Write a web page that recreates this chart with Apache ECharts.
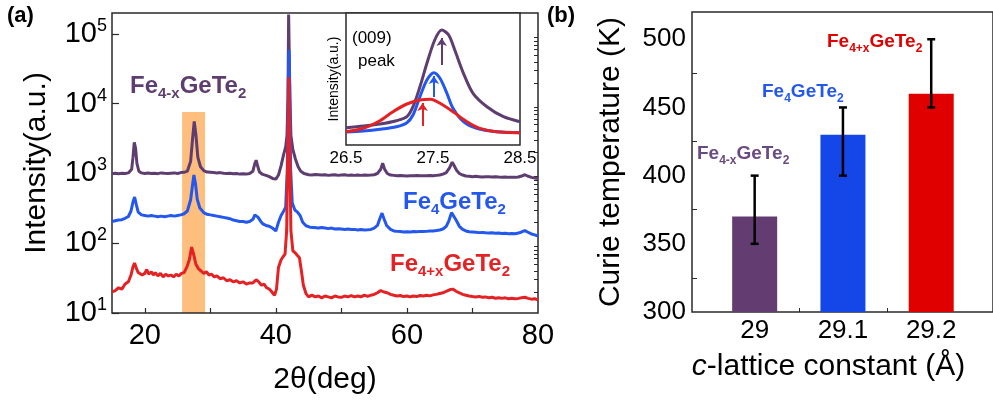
<!DOCTYPE html>
<html><head><meta charset="utf-8">
<script src="https://cdn.jsdelivr.net/npm/echarts@6/dist/echarts.min.js"></script>
<style>html,body{margin:0;padding:0;background:#fff}#c{width:993px;height:405px}</style>
</head><body><div id="c"></div>
<script>
// ---------- DATA ----------
// XRD patterns: [2theta (deg), intensity (a.u.)]
const xrdPurple = [[15,990],[15.5,1010],[16,995],[16.5,1005],[17,1000],[17.5,1020],[18,1150],[18.2,1700],[18.4,2800],[18.6,2300],[18.8,1400],[19.1,1080],[19.5,1020],[20,1000],[20.5,1015],[21,1000],[21.5,1010],[22,995],[22.5,1020],[23,1005],[23.5,1000],[24,1010],[24.5,1020],[25,1000],[25.5,1030],[26,1040],[26.5,1080],[27,1500],[27.3,3200],[27.55,5600],[27.8,3600],[28.1,1700],[28.5,1250],[29,1100],[29.5,1050],[30,1040],[30.5,1030],[31,1020],[31.5,1030],[32,1010],[32.5,1000],[33,1010],[33.5,990],[34,1000],[34.5,980],[35,990],[35.5,980],[36,1000],[36.5,1080],[36.8,1400],[37,1550],[37.2,1300],[37.5,1050],[38,970],[38.5,940],[39,900],[39.5,850],[40,830],[40.4,950],[40.8,1300],[41.2,1900],[41.5,2400],[41.7,3500],[41.85,12000],[41.95,190000],[42.05,190000],[42.15,12000],[42.3,3500],[42.6,2200],[43,1600],[43.4,1250],[43.8,1080],[44.3,1000],[45,960],[45.5,950],[46,970],[46.5,960],[47,950],[47.5,960],[48,940],[48.5,950],[49,960],[49.5,940],[50,950],[50.5,960],[51,940],[51.5,950],[52,940],[52.5,950],[53,940],[53.5,950],[54,945],[54.5,950],[55,960],[55.5,1000],[56,1150],[56.3,1400],[56.6,1150],[57,1000],[57.5,950],[58,940],[58.5,930],[59,935],[59.5,930],[60,920],[60.5,930],[61,925],[61.5,935],[62,930],[62.5,925],[63,930],[63.5,935],[64,930],[64.5,940],[65,950],[65.5,980],[66,1030],[66.5,1200],[66.9,1450],[67.2,1300],[67.6,1100],[68,1000],[68.5,950],[69,920],[69.5,910],[70,900],[70.5,910],[71,900],[71.5,890],[72,900],[72.5,895],[73,890],[73.5,900],[74,890],[74.5,885],[75,890],[75.5,880],[76,885],[76.5,880],[77,890],[77.5,920],[78,960],[78.4,920],[79,880],[79.5,860],[80,850]];
const xrdBlue = [[15,205],[15.5,210],[16,215],[16.5,218],[17,228],[17.5,242],[17.9,290],[18.2,390],[18.45,460],[18.7,360],[19,280],[19.5,255],[20,250],[20.5,245],[21,250],[21.5,245],[22,240],[22.5,245],[23,240],[23.5,245],[24,250],[24.5,245],[25,250],[25.5,255],[26,265],[26.5,290],[27,420],[27.3,700],[27.5,950],[27.75,700],[28,430],[28.4,320],[29,275],[29.5,260],[30,255],[30.5,250],[31,245],[31.5,240],[32,235],[32.5,230],[33,225],[33.5,215],[34,210],[34.5,205],[35,205],[35.5,200],[36,205],[36.5,220],[36.8,255],[37,270],[37.3,235],[37.7,205],[38,190],[38.5,180],[39,175],[39.5,165],[40,150],[40.4,200],[40.8,250],[41.2,290],[41.5,330],[41.75,1200],[41.9,20000],[42.0,59000],[42.1,20000],[42.25,1200],[42.5,380],[42.9,300],[43.3,280],[43.7,250],[44.1,200],[44.6,178],[45.2,170],[45.8,168],[46.5,165],[47,168],[47.5,165],[48,162],[48.5,165],[49,160],[49.5,162],[50,160],[50.5,158],[51,160],[51.5,157],[52,158],[52.5,155],[53,157],[53.5,155],[54,156],[54.5,158],[55,165],[55.5,180],[55.9,230],[56.2,270],[56.5,225],[56.9,180],[57.5,158],[58,150],[58.5,148],[59,147],[59.5,145],[60,146],[60.5,145],[61,147],[61.5,146],[62,148],[62.5,147],[63,148],[63.5,150],[64,150],[64.5,152],[65,155],[65.5,160],[66,175],[66.4,210],[66.8,275],[67.1,260],[67.5,215],[68,175],[68.5,158],[69,150],[69.5,146],[70,145],[70.5,144],[71,142],[71.5,143],[72,141],[72.5,140],[73,141],[73.5,139],[74,140],[74.5,138],[75,139],[75.5,137],[76,138],[76.5,137],[77,140],[77.5,145],[78,152],[78.4,145],[79,136],[79.5,132],[80,127]];
const xrdRed = [[15,20],[15.5,21],[16,23],[16.5,22],[17,26],[17.5,28],[17.9,35],[18.2,46],[18.45,52],[18.7,44],[19,38],[19.3,40],[19.6,35],[20,37],[20.3,42],[20.6,36],[21,39],[21.3,35],[21.6,38],[22,34],[22.4,37],[22.8,33],[23.2,36],[23.6,34],[24,35],[24.4,33],[24.8,36],[25.2,34],[25.6,37],[26,38],[26.4,45],[26.8,58],[27.15,88],[27.45,70],[27.8,50],[28.2,43],[28.6,40],[29,37],[29.4,39],[29.8,35],[30.2,36],[30.6,33],[31,34],[31.5,31],[32,32],[32.5,29],[33,30],[33.5,28],[34,29],[34.5,27],[35,28],[35.5,26],[36,27],[36.5,27],[37,30],[37.4,28],[37.8,25],[38.2,26],[38.6,23],[39,22],[39.4,20],[39.8,18],[40.1,22],[40.4,45],[40.8,58],[41.1,64],[41.4,70],[41.65,150],[41.85,3000],[41.98,24000],[42.1,3000],[42.3,150],[42.6,78],[43,72],[43.3,68],[43.6,62],[43.9,40],[44.2,25],[44.6,19],[45,17],[45.5,18],[46,17],[46.5,17.5],[47,16.5],[47.5,17.5],[48,17],[48.5,16.5],[49,17.5],[49.5,17],[50,16.8],[50.5,17.5],[51,17],[51.5,17.8],[52,17],[52.5,17.5],[53,17],[53.5,18],[54,17.3],[54.5,18],[55,18.5],[55.5,19.5],[56,21],[56.5,20],[57,19.5],[57.5,18.5],[58,18],[58.5,17.5],[59,17.8],[59.5,17.2],[60,17.5],[60.5,17],[61,17.5],[61.5,17.2],[62,17.8],[62.5,17.5],[63,18],[63.5,17.6],[64,18.2],[64.5,18.5],[65,19],[65.5,19.5],[66,20.5],[66.5,21.5],[67,22],[67.5,20.5],[68,19.5],[68.5,18.5],[69,18],[69.5,17.5],[70,17.2],[70.5,17],[71,17.3],[71.5,16.8],[72,17],[72.5,16.5],[73,16.8],[73.5,16.3],[74,16.5],[74.5,16.2],[75,16.5],[75.5,16],[76,16.3],[76.5,16],[77,16.2],[77.5,16.5],[78,16.8],[78.5,16.2],[79,15.8],[79.5,16],[80,15.5]];

// Inset (009) peak, arbitrary units
const insetPurple = [[26.5,17.3],[26.7,19],[26.89,21],[27.08,24.3],[27.2,28.3],[27.27,38.3],[27.35,58.3],[27.43,81.7],[27.52,105],[27.6,115],[27.68,110],[27.75,95],[27.85,71.7],[27.96,51.7],[28.12,38.3],[28.31,28.3],[28.5,23.3]];
const insetBlue = [[26.5,13],[26.7,14],[26.89,15.7],[27.08,18.3],[27.2,22.3],[27.27,30],[27.35,48.3],[27.43,65],[27.51,72.3],[27.58,66.7],[27.66,51.7],[27.73,36.7],[27.85,23.3],[28.0,16.7],[28.23,13.3],[28.5,12.3]];
const insetRed = [[26.5,13.3],[26.7,16.7],[26.89,24.3],[27.04,33.3],[27.2,41],[27.35,45],[27.47,45.7],[27.58,41.7],[27.73,33.3],[27.89,23.3],[28.04,16.7],[28.23,13.3],[28.5,12.3]];
// peak-position arrows: [2theta, tail, head]
const arrowPurple = [27.6, 80, 107];
const arrowBlue = [27.51, 48, 69];
const arrowRed = [27.38, 19, 42];
const band009 = [25.7, 29.2];

const xrdXLabels = [20, 40, 60, 80];
const xrdXTicks = [20, 30, 40, 50, 60, 70];
const xrdYLabels = [10, 100, 1000, 10000, 100000];
const xrdYMinor = [20,30,40,50,60,70,80,90,200,300,400,500,600,700,800,900,2000,3000,4000,5000,6000,7000,8000,9000,20000,30000,40000,50000,60000,70000,80000,90000];
const insetXLabels = [26.5, 27.5, 28.5];
const insetXTicks = [27, 27.5, 28];

// Curie temperature panel
const latticeC = [29, 29.1, 29.2];
const curieT = [370, 430, 460];
const errLow = [350, 400, 450];
const errHigh = [400, 450, 500];
const curieYLabels = [300, 350, 400, 450, 500];
const curieYMinor = [325, 375, 425, 475];
const curieXTicks = [29.05, 29.15];

// ---------- STYLE ----------
const FONT = '"Liberation Sans", Arial, sans-serif';
const C_PUR = '#5E3E70', C_BLU = '#2457EE', C_RED = '#E42224';
const BAR_COL = ['#633C71', '#1446E8', '#E00000'];
const FRAME = '#2a2a2a';

const chart = echarts.init(document.getElementById('c'), null, {renderer: 'canvas'});

function sampleLabel(sub, color, x, y, size, subSize) {
  return {
    type: 'text', x: x, y: y, z: 50,
    style: {
      text: '{m|Fe}{s|' + sub + '}{m|GeTe}{s|2}',
      verticalAlign: 'middle', align: 'left',
      rich: {
        m: {fontSize: size, fontWeight: 'bold', fill: color, fontFamily: FONT, lineHeight: size + 6},
        s: {fontSize: subSize, fontWeight: 'bold', fill: color, fontFamily: FONT, lineHeight: subSize - 1, verticalAlign: 'bottom'}
      }
    }
  };
}

const option = {
  animation: false,
  backgroundColor: '#fff',
  textStyle: {fontFamily: FONT},
  grid: [
    {left: 112, top: 13, width: 426, height: 300, show: true, borderColor: FRAME, borderWidth: 1.5, backgroundColor: 'transparent', z: 2},
    {left: 346, top: 13, width: 174, height: 132, show: true, borderColor: FRAME, borderWidth: 1.5, backgroundColor: '#fff', z: 4},
    {left: 692, top: 12, width: 305, height: 300, show: true, borderColor: FRAME, borderWidth: 1.5, backgroundColor: 'transparent'}
  ],
  xAxis: [
    {gridIndex: 0, type: 'value', min: 15, max: 80,
     axisLine: {show: false}, splitLine: {show: false},
     axisTick: {show: true, inside: true, length: 5, customValues: xrdXTicks, lineStyle: {color: FRAME, width: 1.2}},
     axisLabel: {customValues: xrdXLabels, fontSize: 29, color: '#000', margin: 8, fontFamily: FONT},
     name: '2θ(deg)', nameLocation: 'middle', nameGap: 52, nameTextStyle: {fontSize: 30, color: '#000', fontFamily: FONT}},
    {gridIndex: 1, type: 'value', min: 26.5, max: 28.5,
     axisLine: {show: false}, splitLine: {show: false},
     axisTick: {show: true, inside: true, length: 4, customValues: insetXTicks, lineStyle: {color: FRAME, width: 1}},
     axisLabel: {customValues: insetXLabels, fontSize: 17, color: '#000', margin: 5, fontFamily: FONT}},
    {gridIndex: 2, type: 'value', min: 28.929, max: 29.27,
     axisLine: {show: false}, splitLine: {show: false},
     axisTick: {show: true, inside: true, length: 4, customValues: curieXTicks, lineStyle: {color: FRAME, width: 1}},
     axisLabel: {customValues: latticeC, fontSize: 26, color: '#000', margin: 6, fontFamily: FONT},
     name: '{i|c}-lattice constant (Å)', nameLocation: 'middle', nameGap: 40,
     nameTextStyle: {fontSize: 30, color: '#000', fontFamily: FONT, padding: [0, 28, 0, 0],
       rich: {i: {fontSize: 30, fontStyle: 'italic', color: '#000', fontFamily: FONT}}}}
  ],
  yAxis: [
    {gridIndex: 0, type: 'log', logBase: 10, min: 10, max: 200000,
     axisLine: {show: false}, splitLine: {show: false},
     axisTick: {show: true, inside: true, length: 7, customValues: xrdYLabels, lineStyle: {color: FRAME, width: 1.2}},
     axisLabel: {customValues: xrdYLabels, margin: 5, color: '#000',
       formatter: function (v) { return '{b|10}{s|' + Math.round(Math.log10(v)) + '}'; },
       rich: {b: {fontSize: 29, color: '#000', fontFamily: FONT, lineHeight: 34},
              s: {fontSize: 18, color: '#000', fontFamily: FONT, lineHeight: 14, verticalAlign: 'top'}}},
     name: 'Intensity(a.u.)', nameLocation: 'middle', nameGap: 60, nameTextStyle: {fontSize: 30, color: '#000', fontFamily: FONT}},
    {gridIndex: 0, type: 'log', logBase: 10, min: 10, max: 200000,
     axisLine: {show: false}, splitLine: {show: false}, axisLabel: {show: false},
     axisTick: {show: true, inside: true, length: 4, customValues: xrdYMinor, lineStyle: {color: FRAME, width: 1}}},
    {gridIndex: 1, type: 'value', min: 0, max: 132,
     axisLine: {show: false}, splitLine: {show: false}, axisLabel: {show: false},
     axisTick: {show: true, inside: true, length: 4, customValues: [28, 63, 102], lineStyle: {color: FRAME, width: 1}},
     name: 'Intensity(a.u.)', nameLocation: 'middle', nameGap: 5, nameTextStyle: {fontSize: 14, color: '#000', fontFamily: FONT}},
    {gridIndex: 2, type: 'value', min: 300, max: 520,
     axisLine: {show: false}, splitLine: {show: false},
     axisTick: {show: true, inside: true, length: 5, customValues: curieYMinor, lineStyle: {color: FRAME, width: 1}},
     axisLabel: {customValues: curieYLabels, fontSize: 26, color: '#000', margin: 6, fontFamily: FONT},
     name: 'Curie temperature (K)', nameLocation: 'middle', nameGap: 66, nameTextStyle: {fontSize: 30, color: '#000', fontFamily: FONT}}
  ],
  series: [
    {type: 'line', xAxisIndex: 0, yAxisIndex: 0, data: [], z: 1, silent: true,
     markArea: {silent: true, itemStyle: {color: '#FDBE7E'},
       data: [[{xAxis: band009[0], yAxis: 10}, {xAxis: band009[1], yAxis: 7600}]]}},
    {type: 'line', xAxisIndex: 0, yAxisIndex: 0, data: xrdPurple, showSymbol: false, z: 3,
     lineStyle: {color: C_PUR, width: 3}, itemStyle: {color: C_PUR}},
    {type: 'line', xAxisIndex: 0, yAxisIndex: 0, data: xrdBlue, showSymbol: false, z: 3,
     lineStyle: {color: C_BLU, width: 3}, itemStyle: {color: C_BLU}},
    {type: 'line', xAxisIndex: 0, yAxisIndex: 0, data: xrdRed, showSymbol: false, z: 3,
     lineStyle: {color: C_RED, width: 3}, itemStyle: {color: C_RED}},
    {type: 'line', xAxisIndex: 1, yAxisIndex: 2, data: insetPurple, showSymbol: false, smooth: 0.3, z: 6,
     lineStyle: {color: C_PUR, width: 3},
     markLine: {silent: true, symbol: ['none', 'arrow'], symbolSize: 8, label: {show: false},
       lineStyle: {color: C_PUR, width: 2, type: 'solid'},
       data: [[{coord: [arrowPurple[0], arrowPurple[1]]}, {coord: [arrowPurple[0], arrowPurple[2]]}]]}},
    {type: 'line', xAxisIndex: 1, yAxisIndex: 2, data: insetBlue, showSymbol: false, smooth: 0.3, z: 6,
     lineStyle: {color: C_BLU, width: 3},
     markLine: {silent: true, symbol: ['none', 'arrow'], symbolSize: 8, label: {show: false},
       lineStyle: {color: C_BLU, width: 2, type: 'solid'},
       data: [[{coord: [arrowBlue[0], arrowBlue[1]]}, {coord: [arrowBlue[0], arrowBlue[2]]}]]}},
    {type: 'line', xAxisIndex: 1, yAxisIndex: 2, data: insetRed, showSymbol: false, smooth: 0.3, z: 6,
     lineStyle: {color: C_RED, width: 3},
     markLine: {silent: true, symbol: ['none', 'arrow'], symbolSize: 8, label: {show: false},
       lineStyle: {color: C_RED, width: 2, type: 'solid'},
       data: [[{coord: [arrowRed[0], arrowRed[1]]}, {coord: [arrowRed[0], arrowRed[2]]}]]}},
    {type: 'bar', xAxisIndex: 2, yAxisIndex: 3, barWidth: 45,
     data: latticeC.map((c, i) => ({value: [c, curieT[i]], itemStyle: {color: BAR_COL[i]}}))},
    {type: 'custom', xAxisIndex: 2, yAxisIndex: 3, z: 10,
     data: latticeC.map((c, i) => [c, errLow[i], errHigh[i]]),
     encode: {x: 0, y: [1, 2]},
     renderItem: function (params, api) {
       const x = api.value(0);
       const lo = api.coord([x, api.value(1)]);
       const hi = api.coord([x, api.value(2)]);
       const cap = 4, st = {stroke: '#000', lineWidth: 2.5};
       return {type: 'group', children: [
         {type: 'line', shape: {x1: lo[0], y1: lo[1], x2: hi[0], y2: hi[1]}, style: st},
         {type: 'line', shape: {x1: lo[0] - cap, y1: lo[1], x2: lo[0] + cap, y2: lo[1]}, style: st},
         {type: 'line', shape: {x1: hi[0] - cap, y1: hi[1], x2: hi[0] + cap, y2: hi[1]}, style: st}
       ]};
     }}
  ],
  graphic: [
    {type: 'text', x: 7, y: 16, z: 50, style: {text: '(a)', fontSize: 22, fontWeight: 'bold', fill: '#000', fontFamily: FONT, verticalAlign: 'middle'}},
    {type: 'text', x: 547, y: 16, z: 50, style: {text: '(b)', fontSize: 22, fontWeight: 'bold', fill: '#000', fontFamily: FONT, verticalAlign: 'middle'}},
    {type: 'text', x: 352, y: 38, z: 50, style: {text: '(009)', fontSize: 17, fill: '#000', fontFamily: FONT, verticalAlign: 'middle'}},
    {type: 'text', x: 358, y: 61, z: 50, style: {text: 'peak', fontSize: 17, fill: '#000', fontFamily: FONT, verticalAlign: 'middle'}},
    sampleLabel('4-x', C_PUR, 130, 86, 24, 15),
    sampleLabel('4', C_BLU, 403, 202, 24, 15),
    sampleLabel('4+x', C_RED, 390, 264, 24, 15),
    sampleLabel('4-x', '#6A4A82', 697, 154, 19, 12),
    sampleLabel('4', C_BLU, 762, 92, 19, 12),
    sampleLabel('4+x', '#E00000', 827, 42, 19, 12)
  ]
};
chart.setOption(option);
</script>
</body></html>
